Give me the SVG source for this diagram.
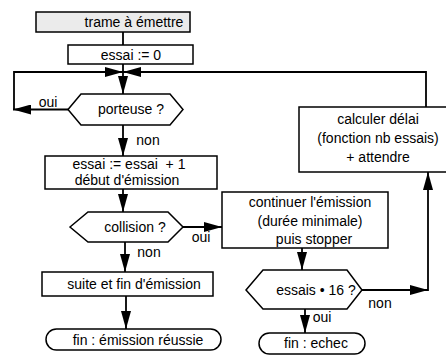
<svg xmlns="http://www.w3.org/2000/svg" width="446" height="356" viewBox="0 0 446 356">
<style>
.b{fill:#fff;stroke:#000;stroke-width:1.5}
.g{fill:#ebebeb;stroke:#000;stroke-width:1.5}
.t{font-family:"Liberation Sans",Arial,sans-serif;font-size:14px;fill:#000;text-anchor:middle}
.c{fill:none;stroke:#000;stroke-width:1.8}
.a{marker-end:url(#ah)}
</style>
<defs>
<marker id="ah" markerUnits="userSpaceOnUse" markerWidth="18" markerHeight="10" refX="18" refY="5" orient="auto">
<path d="M0,0 L18,5 L0,10 z" fill="#000"/>
</marker>
</defs>
<rect width="446" height="356" fill="#fff"/>
<g id="connectors">
<path class="c" d="M123,32 V45"/>
<path class="c" d="M123,64 V72"/>
<path class="c a" d="M123,72 V94"/>
<path class="c a" d="M68,109.5 H13"/>
<path class="c a" d="M14,110 V72 H123"/>
<path class="c a" d="M426,107 V72 H123"/>
<path class="c a" d="M123,125 V156"/>
<path class="c a" d="M123,189 V212"/>
<path class="c a" d="M183,227 H222"/>
<path class="c a" d="M125,242 V272"/>
<path class="c a" d="M126,296 V329"/>
<path class="c a" d="M302,248 V270"/>
<path class="c a" d="M362,290 H428"/>
<path class="c a" d="M428,291 V172"/>
<path class="c a" d="M305,309 V333"/>
<text class="t" x="48" y="107">oui</text>
<text class="t" x="148" y="145">non</text>
<text class="t" x="201" y="242">oui</text>
<text class="t" x="149" y="257">non</text>
<text class="t" x="380" y="308">non</text>
<text class="t" x="322" y="322">oui</text>
</g>
<g id="start">
<rect class="g" x="36" y="12" width="154" height="20"/>
<text class="t" x="134" y="27">trame à émettre</text>
</g>
<g id="init">
<rect class="b" x="68" y="45" width="125" height="19"/>
<text class="t" x="131" y="60">essai := 0</text>
</g>
<g id="porteuse">
<polygon class="b" points="68,109.5 81,94 170,94 183,109.5 170,125 81,125"/>
<text class="t" x="131" y="114">porteuse ?</text>
</g>
<g id="debut">
<rect class="b" x="45" y="156" width="172" height="33"/>
<text class="t" x="129" y="169" xml:space="preserve">essai := essai  + 1</text>
<text class="t" x="127" y="185">début d'émission</text>
</g>
<g id="collision">
<polygon class="b" points="70,227 88,212 168,212 183,227 168,242 88,242"/>
<text class="t" x="135" y="232">collision ?</text>
</g>
<g id="suite">
<rect class="b" x="42" y="272" width="171" height="24"/>
<text class="t" x="134" y="289">suite et fin d'émission</text>
</g>
<g id="fin-ok">
<rect class="b" x="46" y="329" width="175" height="21" rx="10.5"/>
<text class="t" x="138" y="345">fin : émission réussie</text>
</g>
<g id="continuer">
<rect class="b" x="222" y="192" width="166" height="56"/>
<text class="t" x="310" y="207">continuer l'émission</text>
<text class="t" x="310" y="226">(durée minimale)</text>
<text class="t" x="314" y="244">puis stopper</text>
</g>
<g id="essais">
<polygon class="b" points="246,290 263,270 347,270 362,290 347,309 263,309"/>
<text class="t" x="316" y="295">essais • 16 ?</text>
</g>
<g id="fin-echec">
<rect class="b" x="259" y="333" width="106" height="21" rx="10.5"/>
<text class="t" x="316" y="348">fin : echec</text>
</g>
<g id="calculer">
<rect class="b" x="299" y="107" width="158" height="65"/>
<text class="t" x="378" y="124">calculer délai</text>
<text class="t" x="378" y="143">(fonction nb essais)</text>
<text class="t" x="378" y="162">+ attendre</text>
</g>
</svg>
